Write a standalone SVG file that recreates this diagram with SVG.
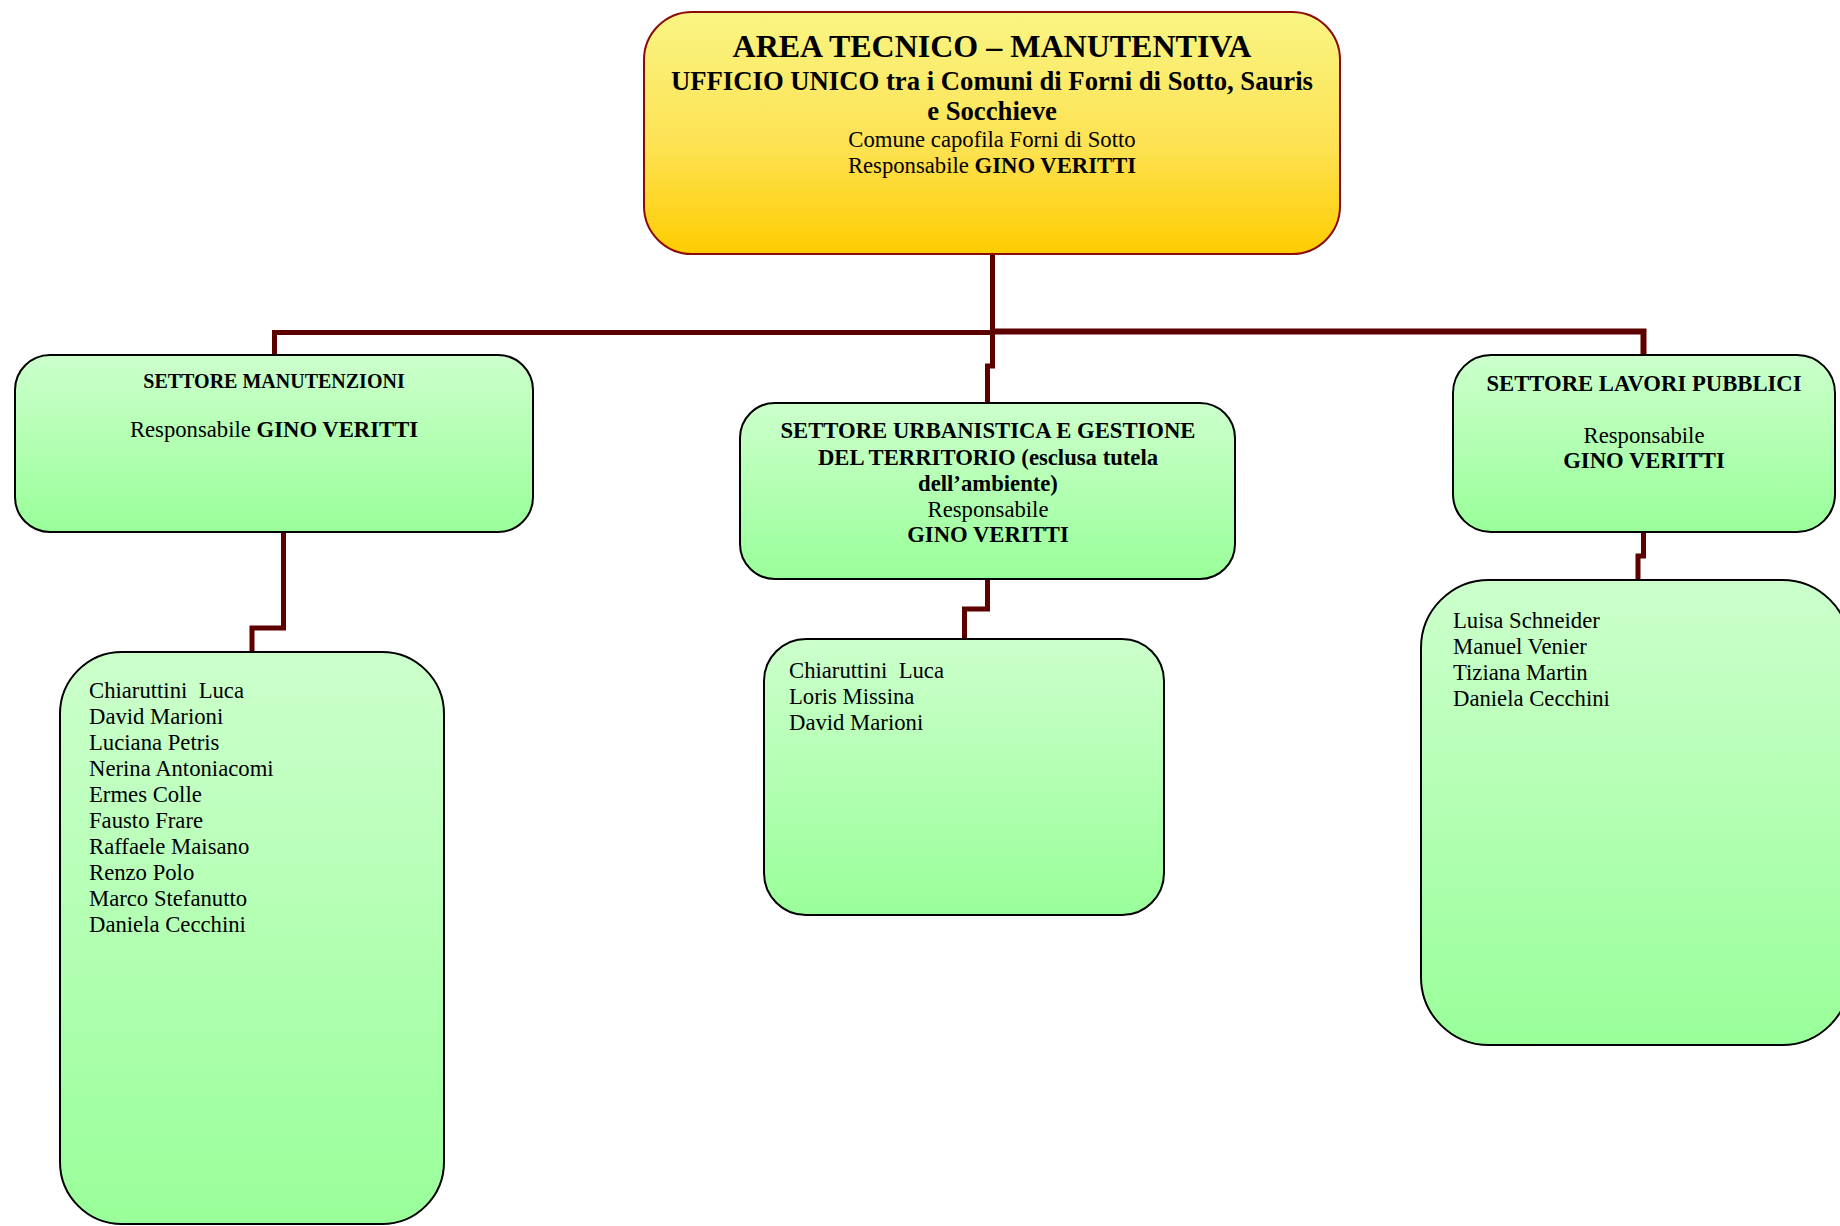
<svg xmlns="http://www.w3.org/2000/svg" width="1840" height="1226" viewBox="0 0 1840 1226">
  <defs>
    <linearGradient id="gYellow" x1="0" y1="0" x2="0" y2="1">
      <stop offset="0" stop-color="#f9f584"/>
      <stop offset="0.55" stop-color="#fde253"/>
      <stop offset="1" stop-color="#ffcc00"/>
    </linearGradient>
    <linearGradient id="gGreen" x1="0" y1="0" x2="0" y2="1">
      <stop offset="0" stop-color="#ccffcc"/>
      <stop offset="1" stop-color="#99ff99"/>
    </linearGradient>
  </defs>
  <style>
    .top { fill: url(#gYellow); stroke: #8b0a0a; stroke-width: 2; }
    .box { fill: url(#gGreen); stroke: #000000; stroke-width: 2; }
    .conn { fill: none; stroke: #5c0000; stroke-width: 5; stroke-linejoin: miter; stroke-linecap: butt; }
    text { font-family: "Liberation Serif", "Times New Roman", serif; fill: #000000; }
    .c { text-anchor: middle; }
    .b { font-weight: bold; }
    .t1 { font-size: 32px; font-weight: bold; }
    .t2 { font-size: 26.7px; font-weight: bold; }
    .n { font-size: 22.7px; }
    .s { font-size: 20px; font-weight: bold; }
  </style>
  <rect width="1840" height="1226" fill="#ffffff"/>

  <g id="connectors">
    <path class="conn" d="M992.5,254 V366 H987.5 V403"/>
    <path class="conn" d="M274.5,355 V332.5 H993"/>
    <path class="conn" d="M992,331.5 H1643.5 V355" style="stroke-width:6"/>
    <path class="conn" d="M283.5,532 V628 H252 V652"/>
    <path class="conn" d="M987.5,579 V609 H964.5 V639"/>
    <path class="conn" d="M1643.5,532 V556 H1638 V580"/>
  </g>

  <g id="n-area">
    <rect class="top" x="644" y="12" width="696" height="242" rx="48" ry="48"/>
    <text class="c t1" x="992" y="57">AREA TECNICO – MANUTENTIVA</text>
    <text class="c t2" x="992" y="90">UFFICIO UNICO tra i Comuni di Forni di Sotto, Sauris</text>
    <text class="c t2" x="992" y="120">e Socchieve</text>
    <text class="c n" x="992" y="147">Comune capofila Forni di Sotto</text>
    <text class="c n" x="992" y="173">Responsabile <tspan class="b">GINO VERITTI</tspan></text>
  </g>

  <g id="n-manutenzioni">
    <rect class="box" x="15" y="355" width="518" height="177" rx="35" ry="35"/>
    <text class="c s" x="274" y="388">SETTORE MANUTENZIONI</text>
    <text class="c n" x="274" y="437">Responsabile <tspan class="b">GINO VERITTI</tspan></text>
  </g>

  <g id="n-urbanistica">
    <rect class="box" x="740" y="403" width="495" height="176" rx="35" ry="35"/>
    <text class="c n b" x="988" y="438">SETTORE URBANISTICA E GESTIONE</text>
    <text class="c n b" x="988" y="465">DEL TERRITORIO (esclusa tutela</text>
    <text class="c n b" x="988" y="491">dell’ambiente)</text>
    <text class="c n" x="988" y="517">Responsabile</text>
    <text class="c n b" x="988" y="542">GINO VERITTI</text>
  </g>

  <g id="n-lavori">
    <rect class="box" x="1453" y="355" width="382" height="177" rx="38" ry="38"/>
    <text class="c n b" x="1644" y="391">SETTORE LAVORI PUBBLICI</text>
    <text class="c n" x="1644" y="443">Responsabile</text>
    <text class="c n b" x="1644" y="468">GINO VERITTI</text>
  </g>

  <g id="n-staff-manutenzioni">
    <rect class="box" x="60" y="652" width="384" height="572" rx="62" ry="62"/>
    <text class="n" x="89" y="698" xml:space="preserve">Chiaruttini  Luca</text>
    <text class="n" x="89" y="724">David Marioni</text>
    <text class="n" x="89" y="750">Luciana Petris</text>
    <text class="n" x="89" y="776">Nerina Antoniacomi</text>
    <text class="n" x="89" y="802">Ermes Colle</text>
    <text class="n" x="89" y="828">Fausto Frare</text>
    <text class="n" x="89" y="854">Raffaele Maisano</text>
    <text class="n" x="89" y="880">Renzo Polo</text>
    <text class="n" x="89" y="906">Marco Stefanutto</text>
    <text class="n" x="89" y="932">Daniela Cecchini</text>
  </g>

  <g id="n-staff-urbanistica">
    <rect class="box" x="764" y="639" width="400" height="276" rx="42" ry="42"/>
    <text class="n" x="789" y="678" xml:space="preserve">Chiaruttini  Luca</text>
    <text class="n" x="789" y="704">Loris Missina</text>
    <text class="n" x="789" y="730">David Marioni</text>
  </g>

  <g id="n-staff-lavori">
    <rect class="box" x="1421" y="580" width="429" height="465" rx="68" ry="68"/>
    <text class="n" x="1453" y="628">Luisa Schneider</text>
    <text class="n" x="1453" y="654">Manuel Venier</text>
    <text class="n" x="1453" y="680">Tiziana Martin</text>
    <text class="n" x="1453" y="706">Daniela Cecchini</text>
  </g>
</svg>
